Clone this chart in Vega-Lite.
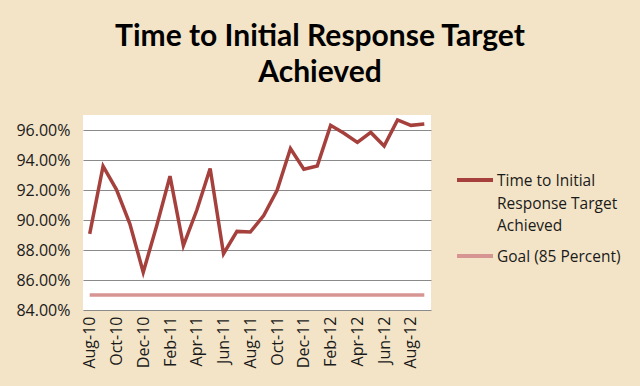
{
  "$schema": "https://vega.github.io/schema/vega-lite/v6.json",
  "autosize": {"type": "none"},
  "width": 348,
  "height": 195,
  "padding": {"left": 83, "top": 115, "right": 209, "bottom": 76},
  "background": "#F3E4C7",
  "title": {
    "text": ["Time to Initial Response Target", "Achieved"],
    "anchor": "middle",
    "frame": "group",
    "dx": 63,
    "offset": 25,
    "fontSize": 30,
    "font": "Lato",
    "fontWeight": "bold",
    "color": "#000000",
    "lineHeight": 36
  },
  "datasets": {
    "main": [
      {"month": "Aug-10", "idx": 0, "value": 0.8908, "series": "Time to Initial Response Target Achieved"},
      {"month": "Sep-10", "idx": 1, "value": 0.9359, "series": "Time to Initial Response Target Achieved"},
      {"month": "Oct-10", "idx": 2, "value": 0.9203, "series": "Time to Initial Response Target Achieved"},
      {"month": "Nov-10", "idx": 3, "value": 0.8975, "series": "Time to Initial Response Target Achieved"},
      {"month": "Dec-10", "idx": 4, "value": 0.8652, "series": "Time to Initial Response Target Achieved"},
      {"month": "Jan-11", "idx": 5, "value": 0.8960, "series": "Time to Initial Response Target Achieved"},
      {"month": "Feb-11", "idx": 6, "value": 0.9292, "series": "Time to Initial Response Target Achieved"},
      {"month": "Mar-11", "idx": 7, "value": 0.8830, "series": "Time to Initial Response Target Achieved"},
      {"month": "Apr-11", "idx": 8, "value": 0.9065, "series": "Time to Initial Response Target Achieved"},
      {"month": "May-11", "idx": 9, "value": 0.9343, "series": "Time to Initial Response Target Achieved"},
      {"month": "Jun-11", "idx": 10, "value": 0.8775, "series": "Time to Initial Response Target Achieved"},
      {"month": "Jul-11", "idx": 11, "value": 0.8924, "series": "Time to Initial Response Target Achieved"},
      {"month": "Aug-11", "idx": 12, "value": 0.8920, "series": "Time to Initial Response Target Achieved"},
      {"month": "Sep-11", "idx": 13, "value": 0.9030, "series": "Time to Initial Response Target Achieved"},
      {"month": "Oct-11", "idx": 14, "value": 0.9198, "series": "Time to Initial Response Target Achieved"},
      {"month": "Nov-11", "idx": 15, "value": 0.9477, "series": "Time to Initial Response Target Achieved"},
      {"month": "Dec-11", "idx": 16, "value": 0.9339, "series": "Time to Initial Response Target Achieved"},
      {"month": "Jan-12", "idx": 17, "value": 0.9360, "series": "Time to Initial Response Target Achieved"},
      {"month": "Feb-12", "idx": 18, "value": 0.9631, "series": "Time to Initial Response Target Achieved"},
      {"month": "Mar-12", "idx": 19, "value": 0.9578, "series": "Time to Initial Response Target Achieved"},
      {"month": "Apr-12", "idx": 20, "value": 0.9517, "series": "Time to Initial Response Target Achieved"},
      {"month": "May-12", "idx": 21, "value": 0.9584, "series": "Time to Initial Response Target Achieved"},
      {"month": "Jun-12", "idx": 22, "value": 0.9493, "series": "Time to Initial Response Target Achieved"},
      {"month": "Jul-12", "idx": 23, "value": 0.9667, "series": "Time to Initial Response Target Achieved"},
      {"month": "Aug-12", "idx": 24, "value": 0.9631, "series": "Time to Initial Response Target Achieved"},
      {"month": "Sep-12", "idx": 25, "value": 0.9640, "series": "Time to Initial Response Target Achieved"},
      {"month": "Aug-10", "idx": 0, "value": 0.85, "series": "Goal (85 Percent)"},
      {"month": "Sep-10", "idx": 1, "value": 0.85, "series": "Goal (85 Percent)"},
      {"month": "Oct-10", "idx": 2, "value": 0.85, "series": "Goal (85 Percent)"},
      {"month": "Nov-10", "idx": 3, "value": 0.85, "series": "Goal (85 Percent)"},
      {"month": "Dec-10", "idx": 4, "value": 0.85, "series": "Goal (85 Percent)"},
      {"month": "Jan-11", "idx": 5, "value": 0.85, "series": "Goal (85 Percent)"},
      {"month": "Feb-11", "idx": 6, "value": 0.85, "series": "Goal (85 Percent)"},
      {"month": "Mar-11", "idx": 7, "value": 0.85, "series": "Goal (85 Percent)"},
      {"month": "Apr-11", "idx": 8, "value": 0.85, "series": "Goal (85 Percent)"},
      {"month": "May-11", "idx": 9, "value": 0.85, "series": "Goal (85 Percent)"},
      {"month": "Jun-11", "idx": 10, "value": 0.85, "series": "Goal (85 Percent)"},
      {"month": "Jul-11", "idx": 11, "value": 0.85, "series": "Goal (85 Percent)"},
      {"month": "Aug-11", "idx": 12, "value": 0.85, "series": "Goal (85 Percent)"},
      {"month": "Sep-11", "idx": 13, "value": 0.85, "series": "Goal (85 Percent)"},
      {"month": "Oct-11", "idx": 14, "value": 0.85, "series": "Goal (85 Percent)"},
      {"month": "Nov-11", "idx": 15, "value": 0.85, "series": "Goal (85 Percent)"},
      {"month": "Dec-11", "idx": 16, "value": 0.85, "series": "Goal (85 Percent)"},
      {"month": "Jan-12", "idx": 17, "value": 0.85, "series": "Goal (85 Percent)"},
      {"month": "Feb-12", "idx": 18, "value": 0.85, "series": "Goal (85 Percent)"},
      {"month": "Mar-12", "idx": 19, "value": 0.85, "series": "Goal (85 Percent)"},
      {"month": "Apr-12", "idx": 20, "value": 0.85, "series": "Goal (85 Percent)"},
      {"month": "May-12", "idx": 21, "value": 0.85, "series": "Goal (85 Percent)"},
      {"month": "Jun-12", "idx": 22, "value": 0.85, "series": "Goal (85 Percent)"},
      {"month": "Jul-12", "idx": 23, "value": 0.85, "series": "Goal (85 Percent)"},
      {"month": "Aug-12", "idx": 24, "value": 0.85, "series": "Goal (85 Percent)"},
      {"month": "Sep-12", "idx": 25, "value": 0.85, "series": "Goal (85 Percent)"}
    ]
  },
  "data": {"name": "main"},
  "mark": {"type": "line", "strokeWidth": 3.5, "strokeJoin": "miter"},
  "encoding": {
    "x": {
      "field": "month",
      "type": "ordinal",
      "sort": {"field": "idx"},
      "scale": {"paddingOuter": 0.5, "paddingInner": 0},
      "axis": {
        "title": null,
        "labelAngle": -90,
        "labelExpr": "indexof(['Aug-10','Oct-10','Dec-10','Feb-11','Apr-11','Jun-11','Aug-11','Oct-11','Dec-11','Feb-12','Apr-12','Jun-12','Aug-12'], datum.value) >= 0 ? datum.value : ''",
        "labelFontSize": 16,
        "labelFont": "Open Sans",
        "labelColor": "#1a1a1a",
        "labelPadding": 6,
        "ticks": false,
        "domain": false,
        "grid": false
      }
    },
    "y": {
      "field": "value",
      "type": "quantitative",
      "scale": {"domain": [0.84, 0.97], "nice": false, "zero": false},
      "axis": {
        "title": null,
        "format": ".2%",
        "values": [0.84, 0.86, 0.88, 0.90, 0.92, 0.94, 0.96],
        "labelFontSize": 16,
        "labelFont": "Open Sans",
        "labelColor": "#1a1a1a",
        "labelPadding": 13,
        "ticks": false,
        "domain": false,
        "gridColor": "#8a8a8a",
        "gridWidth": 1
      }
    },
    "color": {
      "field": "series",
      "type": "nominal",
      "sort": ["Time to Initial Response Target Achieved", "Goal (85 Percent)"],
      "scale": {
        "domain": ["Time to Initial Response Target Achieved", "Goal (85 Percent)"],
        "range": ["#A5403D", "#D69593"]
      },
      "legend": {
        "title": null,
        "orient": "none",
        "legendX": 372,
        "legendY": 45,
        "symbolType": "stroke",
        "symbolSize": 1296,
        "symbolStrokeWidth": 4,
        "labelFontSize": 15.5,
        "labelFont": "Open Sans",
        "labelColor": "#1a1a1a",
        "labelOffset": 2,
        "labelLimit": 200,
        "rowPadding": 1,
        "labelBaseline": "top",
        "labelExpr": "datum.value == 'Time to Initial Response Target Achieved' ? ['Time to Initial', 'Response Target', 'Achieved'] : datum.value",
        "labelAlign": "left",
        "encode": {
          "labels": {"update": {"dy": {"value": -6}, "lineHeight": {"value": 22.5}}}
        }
      }
    }
  },
  "config": {
    "view": {"fill": "#FFFFFF", "stroke": null}
  }
}
